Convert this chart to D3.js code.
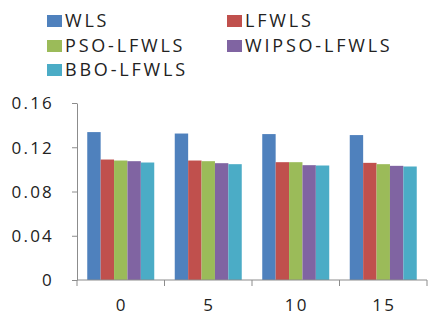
<!DOCTYPE html>
<html><head><meta charset="utf-8">
<script src="https://cdn.jsdelivr.net/npm/d3@7"></script>
<style>body{margin:0;background:#fff}svg{display:block}</style>
</head><body><svg id="c" width="430" height="326"></svg>
<script>
const categories = ["0", "5", "10", "15"];
const seriesNames = ["WLS", "LFWLS", "PSO-LFWLS", "WIPSO-LFWLS", "BBO-LFWLS"];
const WLS   = [0.1337, 0.1324, 0.1319, 0.1310];
const LFWLS = [0.1089, 0.1080, 0.1065, 0.1059];
const PSO   = [0.1080, 0.1074, 0.1065, 0.1047];
const WIPSO = [0.1074, 0.1056, 0.1038, 0.1032];
const BBO   = [0.1062, 0.1047, 0.1035, 0.1026];
const yTicks = [0, 0.04, 0.08, 0.12, 0.16];
const yTickLabels = ["0", "0.04", "0.08", "0.12", "0.16"];
const colors = ["#4F81BD", "#C0504D", "#9BBB59", "#8064A2", "#4BACC6"];
const series = [WLS, LFWLS, PSO, WIPSO, BBO];

const svg = d3.select("#c");
const font = "'Open Sans', sans-serif";
const mLeft = 77, mRight = 427, mTop = 103, mBottom = 280;

const x = d3.scaleBand().domain(categories).range([mLeft, mRight]).paddingInner(0).paddingOuter(0);
const xs = d3.scaleBand().domain(seriesNames).range([0, x.bandwidth()]).paddingInner(0).paddingOuter(0.765);
const y = d3.scaleLinear().domain([0, 0.16]).range([mBottom, mTop]);

// bars
categories.forEach((c, i) => {
  svg.append("g").selectAll("rect").data(seriesNames).join("rect")
    .attr("x", s => x(c) + xs(s))
    .attr("width", xs.bandwidth())
    .attr("y", (s, k) => y(series[k][i]))
    .attr("height", (s, k) => y(0) - y(series[k][i]))
    .attr("fill", (s, k) => colors[k]);
});

const axisColor = "#8c8c8c";
// y axis
const ya = svg.append("g").attr("transform", `translate(${mLeft},0)`)
  .call(d3.axisLeft(y).tickValues(yTicks).tickFormat((d, i) => yTickLabels[i]).tickSize(5).tickSizeOuter(0));
ya.select(".domain").attr("stroke", axisColor);
ya.selectAll(".tick line").attr("stroke", axisColor);
ya.selectAll("text").attr("font-family", font).attr("font-size", 17).attr("fill", "#222")
  .attr("letter-spacing", 2.2).attr("x", -23).attr("dy", "0.35em");

// x axis
svg.append("line").attr("x1", mLeft).attr("x2", mRight).attr("y1", y(0)).attr("y2", y(0)).attr("stroke", axisColor);
const bounds = categories.map(c => x(c)).concat([x(categories[categories.length - 1]) + x.bandwidth()]);
svg.append("g").selectAll("line").data(bounds).join("line")
  .attr("x1", d => d).attr("x2", d => d).attr("y1", y(0)).attr("y2", y(0) + 6).attr("stroke", axisColor);
svg.append("g").selectAll("text").data(categories).join("text")
  .attr("x", c => x(c) + x.bandwidth() / 2 + 1).attr("y", 311)
  .attr("text-anchor", "middle").attr("font-family", font).attr("font-size", 17)
  .attr("letter-spacing", 2.2).attr("fill", "#222").text(c => c);

// legend
const legPos = [[47, 21], [227, 21], [47, 46], [227, 46], [47, 70]];
const lg = svg.append("g");
seriesNames.forEach((s, k) => {
  const [lx, ly] = legPos[k];
  lg.append("rect").attr("x", lx).attr("y", ly - 6).attr("width", 15).attr("height", 12).attr("fill", colors[k]);
  lg.append("text").attr("x", lx + 18).attr("y", ly).attr("dy", "0.36em")
    .attr("font-family", font).attr("font-size", 18).attr("letter-spacing", 2.8).attr("fill", "#222").text(s);
});
</script></body></html>
